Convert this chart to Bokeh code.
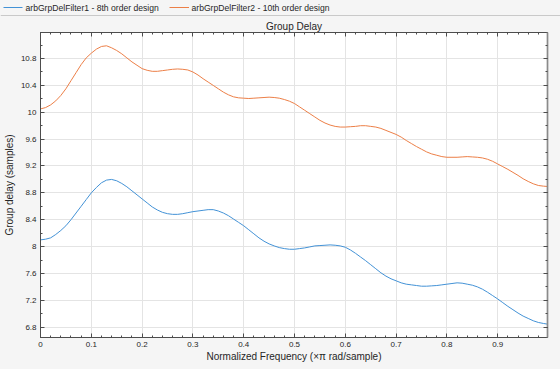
from bokeh.plotting import figure
from bokeh.models import Range1d, FixedTicker, LinearAxis, Label
from bokeh.layouts import column
from bokeh.embed import file_html
from bokeh.resources import INLINE

# ---------------- data ----------------
freq = [0.00, 0.01, 0.02, 0.03, 0.04, 0.05, 0.06, 0.07, 0.08, 0.09,
        0.10, 0.11, 0.12, 0.13, 0.14, 0.15, 0.16, 0.17, 0.18, 0.19,
        0.20, 0.21, 0.22, 0.23, 0.24, 0.25, 0.26, 0.27, 0.28, 0.29,
        0.30, 0.31, 0.32, 0.33, 0.34, 0.35, 0.36, 0.37, 0.38, 0.39,
        0.40, 0.41, 0.42, 0.43, 0.44, 0.45, 0.46, 0.47, 0.48, 0.49,
        0.50, 0.51, 0.52, 0.53, 0.54, 0.55, 0.56, 0.57, 0.58, 0.59,
        0.60, 0.61, 0.62, 0.63, 0.64, 0.65, 0.66, 0.67, 0.68, 0.69,
        0.70, 0.71, 0.72, 0.73, 0.74, 0.75, 0.76, 0.77, 0.78, 0.79,
        0.80, 0.81, 0.82, 0.83, 0.84, 0.85, 0.86, 0.87, 0.88, 0.89,
        0.90, 0.91, 0.92, 0.93, 0.94, 0.95, 0.96, 0.97, 0.98, 0.99, 0.998]

delay_filter1 = [8.10, 8.11, 8.13, 8.18, 8.24, 8.31, 8.40, 8.50, 8.60, 8.70,
                 8.80, 8.88, 8.95, 8.99, 9.00, 8.98, 8.94, 8.89, 8.83, 8.77,
                 8.71, 8.65, 8.59, 8.545, 8.51, 8.49, 8.48, 8.48, 8.49, 8.505,
                 8.52, 8.53, 8.54, 8.55, 8.55, 8.53, 8.50, 8.46, 8.41, 8.36,
                 8.31, 8.25, 8.19, 8.13, 8.08, 8.04, 8.01, 7.985, 7.97, 7.96,
                 7.96, 7.97, 7.98, 7.995, 8.01, 8.015, 8.02, 8.025, 8.02, 8.01,
                 7.99, 7.95, 7.90, 7.845, 7.79, 7.73, 7.67, 7.61, 7.56, 7.52,
                 7.49, 7.46, 7.44, 7.43, 7.42, 7.41, 7.41, 7.415, 7.42, 7.43,
                 7.44, 7.45, 7.46, 7.455, 7.44, 7.425, 7.40, 7.365, 7.32, 7.27,
                 7.22, 7.165, 7.11, 7.06, 7.01, 6.965, 6.93, 6.895, 6.87, 6.855, 6.845]

delay_filter2 = [10.05, 10.07, 10.11, 10.17, 10.25, 10.35, 10.47, 10.59, 10.71, 10.81,
                 10.88, 10.94, 10.98, 10.99, 10.96, 10.92, 10.87, 10.81, 10.75, 10.70,
                 10.65, 10.625, 10.61, 10.61, 10.62, 10.63, 10.64, 10.645, 10.64, 10.63,
                 10.60, 10.555, 10.50, 10.45, 10.40, 10.35, 10.30, 10.26, 10.23, 10.215,
                 10.21, 10.205, 10.21, 10.215, 10.22, 10.225, 10.22, 10.21, 10.19, 10.165,
                 10.13, 10.08, 10.03, 9.98, 9.93, 9.88, 9.84, 9.81, 9.79, 9.78,
                 9.78, 9.785, 9.79, 9.80, 9.80, 9.79, 9.78, 9.76, 9.73, 9.70,
                 9.67, 9.63, 9.58, 9.535, 9.49, 9.45, 9.41, 9.38, 9.36, 9.34,
                 9.33, 9.33, 9.33, 9.335, 9.34, 9.335, 9.33, 9.32, 9.30, 9.27,
                 9.23, 9.19, 9.15, 9.105, 9.06, 9.01, 8.97, 8.935, 8.91, 8.90, 8.895]

series_names = ["arbGrpDelFilter1 - 8th order design",
                "arbGrpDelFilter2 - 10th order design"]

x_ticks = [0, 0.1, 0.2, 0.3, 0.4, 0.5, 0.6, 0.7, 0.8, 0.9]
x_tick_labels = ["0", "0.1", "0.2", "0.3", "0.4", "0.5", "0.6", "0.7", "0.8", "0.9"]
y_ticks = [6.8, 7.2, 7.6, 8.0, 8.4, 8.8, 9.2, 9.6, 10.0, 10.4, 10.8]
y_tick_labels = ["6.8", "7.2", "7.6", "8", "8.4", "8.8", "9.2", "9.6", "10", "10.4", "10.8"]

title_text = "Group Delay"
x_label = "Normalized Frequency (\u00d7\u03c0 rad/sample)"
y_label = "Group delay (samples)"

# ---------------- style ----------------
FONT = "Liberation Sans"
BG = "#f5f5f5"
AX = "#4d4d4d"
TXT = "#262626"
C1 = "#4392d6"
C2 = "#ec7f47"

x_minor = [round(i * 0.02, 2) for i in range(0, 50)]
y_minor = [round(6.8 + i * 0.2, 1) for i in range(0, 22)]

W = 560
H = 369
LH = 16

# ---------------- legend strip ----------------
leg = figure(width=W, height=LH, x_range=Range1d(0, W), y_range=Range1d(0, LH),
             output_backend="svg", toolbar_location=None, min_border=0,
             x_axis_location=None, y_axis_location=None)
leg.frame_align = False
leg.grid.visible = False
leg.outline_line_color = None
leg.background_fill_color = BG
leg.border_fill_color = BG
leg.line([3, 22], [9, 9], color=C1, line_width=1)
leg.line([169, 188.5], [9, 9], color=C2, line_width=1)
for xpos, name in ((25, series_names[0]), (191, series_names[1])):
    leg.add_layout(Label(x=xpos, y=9, x_units="data", y_units="data", text=name,
                         text_baseline="middle", text_align="left",
                         text_font=FONT, text_font_size="8.6px", text_color=TXT))
leg.line([0, W], [0.5, 0.5], color="#9c9c9c", line_width=1)

# ---------------- main plot ----------------
p = figure(width=W, height=H - LH,
           x_range=Range1d(0, 0.998), y_range=Range1d(6.646, 11.188),
           output_backend="svg", toolbar_location=None,
           min_border_left=40, min_border_right=13,
           min_border_top=16, min_border_bottom=32)
p.frame_align = False
p.background_fill_color = "white"
p.border_fill_color = BG
p.outline_line_color = AX
p.outline_line_width = 1

p.title.text = title_text
p.title.align = "center"
p.title.text_font = FONT
p.title.text_font_size = "10px"
p.title.text_font_style = "normal"
p.title.text_color = TXT
p.title.standoff = 1

xt = FixedTicker(ticks=x_ticks, minor_ticks=x_minor)
yt = FixedTicker(ticks=y_ticks, minor_ticks=y_minor)

xa = p.xaxis[0]
ya = p.yaxis[0]
xa.ticker = xt
ya.ticker = yt
xa.major_label_overrides = dict(zip(x_ticks, x_tick_labels))
ya.major_label_overrides = dict(zip(y_ticks, y_tick_labels))
xa.axis_label = x_label
ya.axis_label = y_label
xa.major_label_standoff = 4
ya.major_label_standoff = 4
xa.axis_label_standoff = 1
ya.axis_label_standoff = 3

for ax in (xa, ya):
    ax.axis_line_color = AX
    ax.major_tick_line_color = AX
    ax.minor_tick_line_color = AX
    ax.major_tick_in = 4
    ax.major_tick_out = 0
    ax.minor_tick_in = 2
    ax.minor_tick_out = 0
    ax.major_label_text_font = FONT
    ax.major_label_text_font_size = "8px"
    ax.major_label_text_color = TXT
    ax.axis_label_text_font = FONT
    ax.axis_label_text_font_size = "10px"
    ax.axis_label_text_font_style = "normal"
    ax.axis_label_text_color = TXT

for loc, tk, lc, lw in (("above", xt, AX, 1), ("right", yt, "#8a8a8a", 1.7)):
    a = LinearAxis(ticker=tk, major_label_text_font_size="0px", major_label_text_color=None,
                   major_label_standoff=0,
                   axis_line_color=lc, axis_line_width=lw,
                   major_tick_line_color=AX, minor_tick_line_color=AX,
                   major_tick_in=4, major_tick_out=0, minor_tick_in=2, minor_tick_out=0)
    p.add_layout(a, loc)

p.xgrid.ticker = xt
p.ygrid.ticker = yt
p.xgrid.grid_line_color = "#e4e4e4"
p.ygrid.grid_line_color = "#e4e4e4"
p.xgrid.grid_line_width = 1
p.ygrid.grid_line_width = 1

p.line(freq, delay_filter1, color=C1, line_width=1)
p.line(freq, delay_filter2, color=C2, line_width=1)

layout = column(leg, p, spacing=0)
layout.styles = {"background-color": BG}

open("out.html", "w").write(file_html(layout, INLINE))
